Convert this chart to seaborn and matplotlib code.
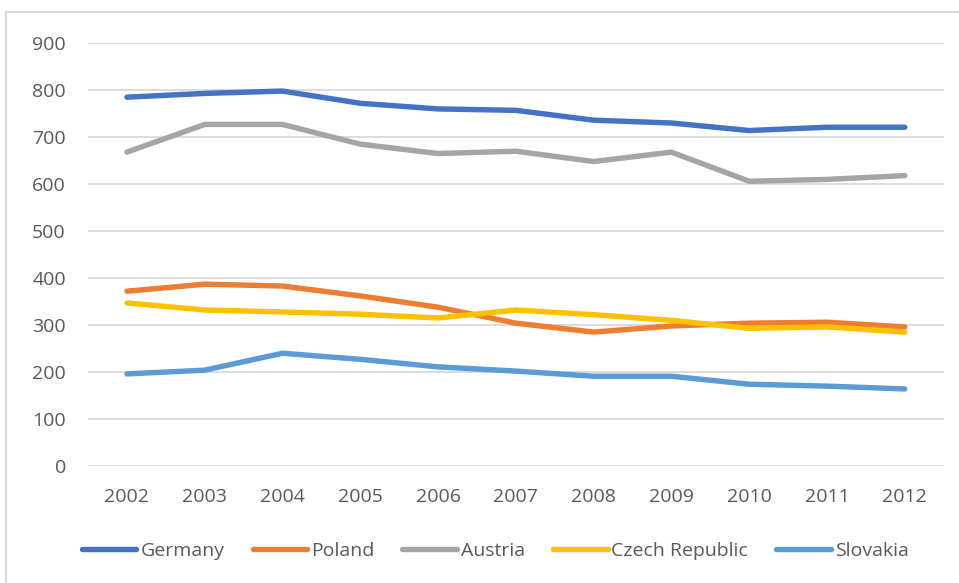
import matplotlib
matplotlib.use("Agg")
import matplotlib.pyplot as plt
import seaborn as sns
import pandas as pd
from matplotlib.patches import Rectangle

# data
years = ['2002', '2003', '2004', '2005', '2006', '2007', '2008', '2009', '2010', '2011', '2012']
germany = [785, 793, 798, 772, 760, 757, 736, 730, 714, 721, 721]
poland = [372, 387, 383, 362, 338, 304, 285, 298, 304, 306, 296]
austria = [668, 727, 727, 685, 665, 670, 648, 668, 606, 610, 618]
czech = [347, 332, 328, 323, 315, 332, 322, 310, 293, 296, 285]
slovakia = [196, 204, 240, 227, 211, 202, 191, 191, 174, 170, 164]

countries = ['Germany', 'Poland', 'Austria', 'Czech Republic', 'Slovakia']
colors = ['#4472C4', '#ED7D31', '#A5A5A5', '#FFC000', '#5B9BD5']

df = pd.DataFrame({'year': years * 5,
                   'value': germany + poland + austria + czech + slovakia,
                   'country': [c for c in countries for _ in years]})

sns.set_style('white')
plt.rcParams['font.family'] = ['Open Sans', 'DejaVu Sans']

fig = plt.figure(figsize=(9.59, 5.83), dpi=100)
ax = fig.add_axes([0.0918, 0.2007, 0.8922, 0.7253])

sns.lineplot(data=df, x='year', y='value', hue='country', hue_order=countries,
             palette=colors, linewidth=3.9, ax=ax, sort=False)
for ln in ax.lines:
    ln.set_solid_capstyle('round')
    ln.set_solid_joinstyle('round')

ax.set_xlim(-0.5, len(years) - 0.5)
ax.set_ylim(0, 900)
ax.set_yticks(range(0, 901, 100))
ax.yaxis.grid(True, color='#d9d9d9', linewidth=1.3)
ax.set_axisbelow(True)
for s in ax.spines.values():
    s.set_visible(False)
ax.tick_params(axis='both', length=0, labelsize=14, colors='#595959')
ax.tick_params(axis='x', pad=16)
ax.tick_params(axis='y', pad=16)
ax.set_xlabel('')
ax.set_ylabel('')

ax.legend(loc='center', bbox_to_anchor=(0.476, -0.2), ncol=5, frameon=False,
          fontsize=14, handlelength=2.8, handletextpad=0.2, columnspacing=1.45,
          labelcolor='#595959')
for h in ax.get_legend().get_lines():
    h.set_linewidth(3.9)
    h.set_solid_capstyle('round')

# outer chart frame
fig.patches.append(Rectangle((6 / 959, -0.01), 1.0, (583 - 12) / 583 + 0.01,
                             transform=fig.transFigure, fill=False,
                             edgecolor='#d9d9d9', linewidth=1.5))

fig.savefig('out.png', dpi=100)
